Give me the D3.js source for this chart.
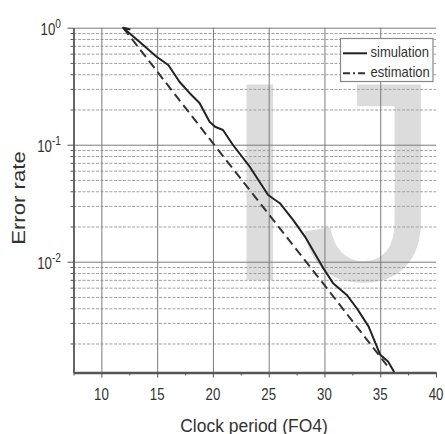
<!DOCTYPE html>
<html lang="en">
<head>
<meta charset="UTF-8" />
<title>Error rate vs clock period</title>
<script src="https://d3js.org/d3.v7.min.js"></script>
<style>
  body { margin: 0; background: #fff; }
  svg { display: block; font-family: "Liberation Sans", Arial, sans-serif; }
  .grid .domain { display: none; }
  .grid-major line { stroke: #7c7c7c; stroke-width: 1; }
  .grid-minor line { stroke: #a0a0a0; stroke-width: 1; stroke-dasharray: 3,1.5; }
  .axis line { stroke: #555; stroke-width: 1; }
  .axis .domain { stroke: #555; }
</style>
</head>
<body>
<div id="chart"></div>
<script>
const width = 445, height = 434;

// x axis ticks
const xTicks = [10, 15, 20, 25, 30, 35, 40];
const xMinorTicks = [7.5, 12.5, 17.5, 22.5, 27.5, 32.5, 37.5];
const xGrid = [10, 15, 20, 25, 30, 35];

// y axis decades and their exponent labels
const yDecades = [1, 0.1, 0.01];
const yExponents = ["0", "-1", "-2"];

// simulation curve
const simX = [12.6, 11.95, 13.9, 14.95, 16.0, 17.0, 17.9, 18.8, 19.7, 20.2, 20.9, 21.8, 23.3,
              24.95, 26.0, 27.2, 28.25, 29.9, 30.8, 32.0, 32.9, 33.95, 34.7, 35.0, 35.7, 36.25];
const simY = [0.965, 1.0, 0.69, 0.565, 0.48, 0.345, 0.277, 0.227, 0.157, 0.1425, 0.1336, 0.0994, 0.0649,
              0.0372, 0.0316, 0.0227, 0.0164, 0.0088, 0.0065, 0.0052, 0.0040, 0.0028, 0.00188, 0.0016, 0.0014, 0.00114];

// estimation curve
const estX = [11.95, 20, 25, 30, 35.6];
const estY = [1.0, 0.103, 0.0255, 0.0063, 0.0013];

const svg = d3.select("#chart").append("svg")
    .attr("width", width)
    .attr("height", height);

svg.append("rect").attr("width", width).attr("height", height).attr("fill", "#fff");

const x = d3.scaleLinear().domain([7.5, 40]).range([73.5, 436]);
const y = d3.scaleLog().domain([0.00113, 1]).range([372.5, 27.7]);

const [x0, x1] = x.range();
const [yb, yt] = y.range();

// minor log ticks 2..9 of each decade
const yMinor = [];
yDecades.forEach(d => {
    for (let k = 2; k <= 9; k++) {
        const v = d / 10 * k;
        if (v >= y.domain()[0]) yMinor.push(v);
    }
});

// watermark
svg.append("text").attr("x", 220.3).attr("y", 280)
    .attr("font-size", 284).attr("fill", "#dcdcdc").text("I");
svg.append("text").attr("x", 300).attr("y", 280)
    .attr("font-size", 284).attr("fill", "#dcdcdc").text("J");

// grids
svg.append("g").attr("class", "grid grid-minor")
    .attr("transform", `translate(${x0},0)`)
    .call(d3.axisLeft(y).tickValues(yMinor).tickSize(-(x1 - x0)).tickFormat(""));

svg.append("g").attr("class", "grid grid-major")
    .attr("transform", `translate(${x0},0)`)
    .call(d3.axisLeft(y).tickValues(yDecades).tickSize(-(x1 - x0)).tickFormat(""));

svg.append("g").attr("class", "grid grid-major")
    .attr("transform", `translate(0,${yb})`)
    .call(d3.axisBottom(x).tickValues(xGrid).tickSize(-(yb - yt)).tickFormat(""));

// axes
const gx = svg.append("g").attr("class", "axis")
    .attr("transform", `translate(0,${yb})`);
gx.call(d3.axisBottom(x).tickValues(xMinorTicks).tickSize(3).tickSizeOuter(0).tickFormat(""));
gx.append("g").call(d3.axisBottom(x).tickValues(xTicks).tickSize(5).tickSizeOuter(0).tickFormat(""))
    .select(".domain").remove();
gx.select(".domain").attr("stroke-width", 2.5);

const gy = svg.append("g").attr("class", "axis")
    .attr("transform", `translate(${x0},0)`);
gy.call(d3.axisLeft(y).tickValues(yMinor).tickSize(3).tickSizeOuter(0).tickFormat(""));
gy.append("g").call(d3.axisLeft(y).tickValues(yDecades).tickSize(6).tickSizeOuter(0).tickFormat(""))
    .select(".domain").remove();
gy.select(".domain").attr("stroke-width", 1.8);

// scaled text helper
function label(px, py, txt, size, sx, anchor, rotate) {
    return svg.append("text")
        .attr("transform", `translate(${px},${py})` + (rotate ? ` rotate(${rotate})` : "") + ` scale(${sx},1)`)
        .attr("text-anchor", anchor)
        .attr("font-size", size)
        .attr("fill", "#333")
        .text(txt);
}

xTicks.forEach(v => label(x(v), 400, v, 17, 0.78, "middle"));

yDecades.forEach((v, i) => {
    const t = svg.append("text")
        .attr("transform", `translate(61,${y(v) + 7.3}) scale(0.78,1)`)
        .attr("text-anchor", "end")
        .attr("font-size", 17)
        .attr("fill", "#333");
    t.append("tspan").text("10");
    t.append("tspan").attr("font-size", 13).attr("dy", -7.4).text(yExponents[i]);
});

label(254, 432, "Clock period (FO4)", 19, 0.92, "middle");
label(25, 198, "Error rate", 18.5, 1.2, "middle", -90);

// lines
const line = d3.line().x(d => x(d[0])).y(d => y(d[1]));

svg.append("path")
    .datum(estX.map((v, i) => [v, estY[i]]))
    .attr("fill", "none")
    .attr("stroke", "#333")
    .attr("stroke-width", 2)
    .attr("stroke-dasharray", "9,5")
    .attr("d", line);

svg.append("path")
    .datum(simX.map((v, i) => [v, simY[i]]))
    .attr("fill", "none")
    .attr("stroke", "#222")
    .attr("stroke-width", 2)
    .attr("stroke-linejoin", "round")
    .attr("d", line);

// legend
const lg = svg.append("g");
lg.append("rect").attr("x", 340.5).attr("y", 38.5).attr("width", 92.5).attr("height", 43)
    .attr("fill", "#fff").attr("stroke", "#888").attr("stroke-width", 1.2);
lg.append("line").attr("x1", 343).attr("x2", 367).attr("y1", 53.3).attr("y2", 53.3)
    .attr("stroke", "#222").attr("stroke-width", 2);
lg.append("line").attr("x1", 343).attr("x2", 367).attr("y1", 73.3).attr("y2", 73.3)
    .attr("stroke", "#333").attr("stroke-width", 2).attr("stroke-dasharray", "7,3,2,3");
label(370.5, 57, "simulation", 14, 0.93, "start");
label(370.5, 77, "estimation", 14, 0.93, "start");
</script>
</body>
</html>
